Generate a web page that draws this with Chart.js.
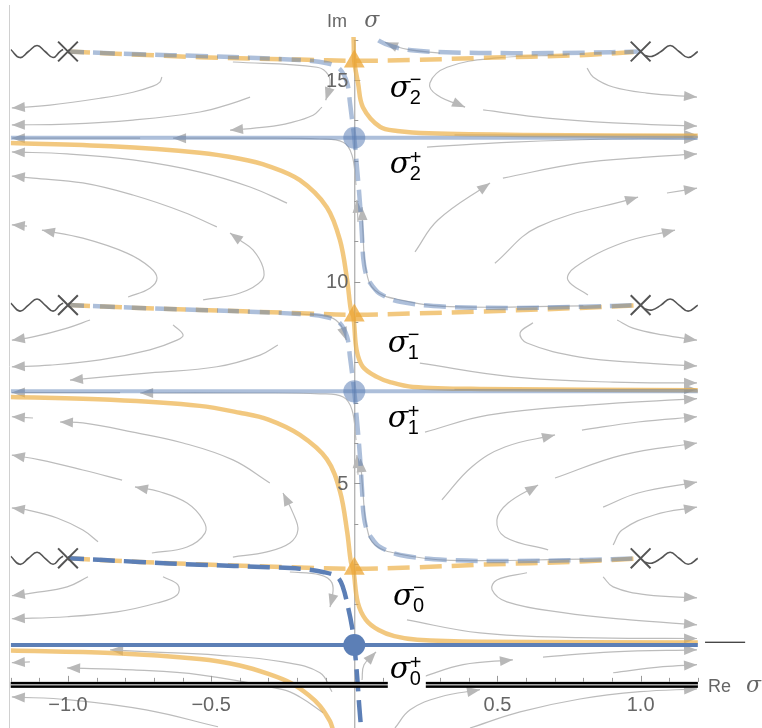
<!DOCTYPE html>
<html>
<head>
<meta charset="utf-8">
<script src="https://cdn.jsdelivr.net/npm/chart.js@4.4.1/dist/chart.umd.min.js"></script>
<style>
  html, body { margin: 0; padding: 0; background: #fff; }
  canvas { display: block; }
</style>
</head>
<body>
<canvas id="flowChart" width="762" height="728"></canvas>
<script>
// fixed points and branch points
const sigmaPlusY = [0.99, 7.28, 13.57];
const sigmaMinusY = [2.88, 9.16, 15.46];
const branchX = [-1.0, 1.0];
const branchY = [3.14, 9.42, 15.71];
const xRange = [-1.2, 1.2];
const yRange = [-1.07, 16.07];

const xTicks = [-1.0, -0.5, 0.5, 1.0];
const xTickLabels = ['\u22121.0', '\u22120.5', '0.5', '1.0'];
const yTicks = [5, 10, 15];
const yTickLabels = ['5', '10', '15'];

// sigma labels
const labelSub = ['0', '0', '1', '1', '2', '2'];
const labelSup = ['+', '\u2212', '+', '\u2212', '+', '\u2212'];
const labelX = [0.124, 0.135, 0.117, 0.117, 0.124, 0.124];
const labelY = [0.17, 1.98, 6.40, 8.26, 12.70, 14.58];

// wiggly branch cuts (offsets from the branch point)
const waveLeftDx = [-0.2, -0.168, -0.138, -0.108, -0.080, -0.052, -0.028, -0.017];
const waveLeftDy = [0.05, -0.15, 0, 0.15, 0, -0.15, 0, 0.05];
const waveRightDx = [0.015, 0.04, 0.071, 0.103, 0.134, 0.166, 0.2];
const waveRightDy = [-0.1, -0.12, 0, 0.15, 0, -0.15, 0];

// solid orange curves
const orangeA = [[-1.2,0.85],[-0.85,0.79],[-0.54,0.64],[-0.40,0.48],[-0.30,0.27],[-0.22,0.04],[-0.16,-0.25],[-0.12,-0.52],[-0.085,-0.9],[-0.075,-1.1]];
const orangeB = [[-1.2,7.14],[-0.85,7.07],[-0.54,6.92],[-0.40,6.75],[-0.30,6.58],[-0.19,6.2],[-0.096,5.6],[-0.05,4.8],[-0.025,3.8],[-0.012,3.05],[-0.003,2.84],[0.012,2.05],[0.04,1.62],[0.085,1.36],[0.14,1.21],[0.22,1.12],[0.44,1.07],[1.2,1.05]];
const orangeC = [[-1.2,13.44],[-0.85,13.36],[-0.54,13.2],[-0.40,13.05],[-0.30,12.87],[-0.19,12.52],[-0.096,11.85],[-0.05,11.03],[-0.025,10.04],[-0.012,9.3],[-0.003,9.12],[0.008,8.31],[0.03,7.89],[0.079,7.64],[0.125,7.51],[0.205,7.39],[0.44,7.34],[1.2,7.31]];
const orangeD = [[-0.004,16.4],[-0.002,15.9],[0.0,15.46],[0.013,14.93],[0.03,14.33],[0.09,13.84],[0.15,13.74],[0.26,13.68],[0.6,13.64],[1.2,13.62]];

// dashed orange curves
const orangeDash0 = [[-1,3.14],[-0.75,3.05],[-0.54,2.99],[-0.19,2.91],[0,2.88],[0.2,2.91],[0.44,2.98],[0.79,3.06],[1,3.14]];
const orangeDash1 = [[-1,9.42],[-0.75,9.35],[-0.54,9.30],[-0.19,9.22],[0,9.18],[0.2,9.21],[0.44,9.26],[0.79,9.35],[1,9.42]];
const orangeDash2 = [[-1,15.71],[-0.75,15.63],[-0.54,15.57],[-0.19,15.51],[0,15.48],[0.2,15.5],[0.44,15.55],[0.79,15.62],[1,15.71]];

// dashed blue curves
const blueDash0 = [[-1,3.14],[-0.75,3.05],[-0.54,2.98],[-0.30,2.92],[-0.19,2.88],[-0.11,2.80],[-0.06,2.68],[-0.04,2.43],[-0.022,1.93],[-0.008,1.44],[0,0.99],[0.01,0.2],[0.017,-0.5],[0.024,-1.1]];
const blueDash1 = [[-1,9.42],[-0.75,9.35],[-0.54,9.30],[-0.19,9.20],[-0.095,9.12],[-0.05,8.97],[-0.025,8.63],[-0.015,8.13],[-0.008,7.74],[0,7.28],[0.01,6.5],[0.02,5.65],[0.027,4.84],[0.032,4.26],[0.044,3.84],[0.065,3.6],[0.09,3.42],[0.16,3.22],[0.32,3.10],[0.55,3.07],[0.8,3.10],[1,3.14]];
const blueDash2 = [[-1,15.71],[-0.75,15.64],[-0.54,15.6],[-0.19,15.5],[-0.095,15.42],[-0.05,15.27],[-0.025,14.93],[-0.015,14.43],[-0.008,14.03],[0,13.57],[0.01,12.78],[0.02,11.93],[0.027,11.12],[0.032,10.54],[0.044,10.12],[0.065,9.88],[0.09,9.70],[0.16,9.50],[0.32,9.38],[0.55,9.35],[0.8,9.38],[1,9.42]];
const blueDash3 = [[1,15.71],[0.8,15.68],[0.55,15.67],[0.32,15.69],[0.2,15.74],[0.135,15.83],[0.09,15.96],[0.06,16.15],[0.045,16.45]];

// stream lines, last point is the arrow tip
const streamsLeft = [
  [[-0.672,15.08],[-0.679,14.95],[-0.703,14.85],[-0.773,14.70],[-0.888,14.55],[-1.063,14.38],[-1.196,14.31]],
  [[-0.364,14.58],[-0.424,14.43],[-0.539,14.21],[-0.773,14.01],[-1.003,13.91],[-1.196,13.89]],
  [[-0.424,15.45],[-0.130,15.32],[-0.090,15.12],[-0.086,14.8],[-0.100,14.5]],
  [[-0.113,14.33],[-0.144,14.13],[-0.225,13.94],[-0.305,13.84],[-0.434,13.76]],
  [[0.013,11.48],[0.009,12.03]],
  [[0.006,12.40],[-0.008,13.14],[-0.039,13.46],[-0.120,13.54],[-0.364,13.56],[-0.633,13.56]],
  [[-0.748,13.56],[-1.196,13.56]],
  [[-0.235,11.95],[-0.364,12.35],[-0.539,12.72],[-0.773,13.02],[-1.003,13.17],[-1.196,13.22]],
  [[-0.480,11.36],[-0.598,11.73],[-0.773,12.15],[-0.948,12.45],[-1.122,12.57],[-1.196,12.62]],
  [[-1.143,11.38],[-1.196,11.41]],
  [[-0.790,9.62],[-0.714,9.84],[-0.689,10.09],[-0.714,10.36],[-0.794,10.71],[-0.948,11.08],[-1.091,11.28]],
  [[-0.528,9.55],[-0.399,9.72],[-0.322,10.04],[-0.319,10.36],[-0.354,10.79],[-0.399,11.03],[-0.434,11.21]],
  [[-0.923,9.05],[-1.003,8.85],[-1.122,8.63],[-1.196,8.55]],
  [[-0.633,8.93],[-0.598,8.68],[-0.619,8.55],[-0.714,8.31],[-0.888,8.06],[-1.063,7.93],[-1.196,7.89]],
  [[-0.267,8.43],[-0.329,8.18],[-0.480,7.89],[-0.714,7.74],[-0.993,7.56]],
  [[-0.190,9.20],[-0.085,9.12],[-0.045,8.9],[-0.028,8.55]],
  [[0.013,5.21],[0.009,5.70]],
  [[0.006,6.07],[-0.008,6.82],[-0.039,7.14],[-0.120,7.22],[-0.364,7.24],[-0.748,7.24]],
  [[-0.818,7.25],[-1.196,7.25]],
  [[-1.122,6.62],[-1.196,6.65]],
  [[-0.295,5.01],[-0.424,5.58],[-0.598,6.00],[-0.773,6.27],[-0.948,6.50],[-1.028,6.52]],
  [[-0.811,5.08],[-0.948,5.33],[-1.098,5.58],[-1.196,5.70]],
  [[-0.707,3.27],[-0.584,3.42],[-0.521,3.77],[-0.528,4.09],[-0.584,4.51],[-0.679,4.79],[-0.766,4.91]],
  [[-0.895,3.55],[-0.948,3.84],[-1.038,4.14],[-1.143,4.34],[-1.196,4.39]],
  [[-0.424,3.17],[-0.305,3.30],[-0.225,3.52],[-0.197,3.84],[-0.214,4.26],[-0.249,4.76]],
  [[-0.930,2.68],[-1.003,2.43],[-1.122,2.28],[-1.196,2.21]],
  [[-0.668,2.68],[-0.616,2.48],[-0.619,2.23],[-0.689,2.03],[-0.829,1.81],[-1.003,1.69],[-1.196,1.64]],
  [[-0.225,2.80],[-0.120,2.73],[-0.078,2.53],[-0.078,2.11],[-0.085,1.93]],
  [[-0.078,-0.17],[-0.120,0.30],[-0.249,0.57],[-0.480,0.74],[-0.714,0.82],[-0.853,0.87]],
  [[-0.109,-0.69],[-0.190,-0.30],[-0.249,-0.12],[-0.539,0.25],[-0.773,0.37],[-1.003,0.42]],
  [[-1.133,0.57],[-1.196,0.55]],
  [[-0.476,-1.04],[-0.727,-0.62],[-0.993,-0.37],[-1.196,-0.30]]
];

const streamsRight = [
  [[0.813,15.30],[0.834,15.08],[0.904,14.83],[1.022,14.68],[1.197,14.58]],
  [[0.743,15.62],[0.498,15.55],[0.324,15.32],[0.264,14.93],[0.289,14.63],[0.387,14.33]],
  [[0.450,14.26],[0.673,14.06],[0.904,13.94],[1.197,13.86]],
  [[0.35,13.64],[1.197,13.64]],
  [[0.254,13.34],[0.554,13.46],[0.904,13.54],[1.197,13.54]],
  [[0.519,12.57],[0.788,12.94],[1.022,13.09],[1.197,13.17]],
  [[0.212,10.74],[0.292,11.53],[0.474,12.45]],
  [[0.491,10.46],[0.642,11.36],[0.991,12.10]],
  [[1.092,12.20],[1.197,12.32]],
  [[0.816,9.67],[0.746,10.04],[0.771,10.36],[0.935,10.96],[1.120,11.28]],
  [[0.80,9.40],[0.334,9.38],[0.160,9.55],[0.072,9.79],[0.041,10.29],[0.030,11.28],[0.027,11.85]],
  [[0.299,15.67],[0.195,15.75],[0.142,15.84],[0.107,15.94]],
  [[0.918,9.05],[0.973,8.85],[1.078,8.68],[1.197,8.55]],
  [[0.624,8.98],[0.579,8.73],[0.603,8.48],[0.788,8.13],[1.022,7.98],[1.197,7.91]],
  [[0.229,7.98],[0.554,7.64],[0.904,7.51],[1.197,7.49]],
  [[0.35,7.33],[1.197,7.33]],
  [[0.247,6.27],[0.467,6.69],[0.816,6.94],[1.197,7.10]],
  [[0.795,6.32],[0.991,6.52],[1.197,6.65]],
  [[0.306,4.59],[0.411,5.41],[0.526,5.90],[0.701,6.20]],
  [[0.701,5.13],[0.935,5.70],[1.197,6.00]],
  [[0.677,3.35],[0.526,3.67],[0.498,4.09],[0.537,4.51],[0.642,4.96]],
  [[0.869,4.41],[0.991,4.76],[1.197,5.03]],
  [[0.904,3.47],[0.935,3.84],[1.050,4.22],[1.197,4.41]],
  [[0.80,3.12],[0.334,3.09],[0.160,3.24],[0.072,3.47],[0.044,3.9],[0.030,4.8],[0.022,5.6]],
  [[0.869,2.68],[0.904,2.43],[1.022,2.23],[1.197,2.16]],
  [[0.603,2.78],[0.498,2.60],[0.481,2.36],[0.533,2.06],[0.729,1.79],[0.963,1.61],[1.197,1.49]],
  [[0.184,1.61],[0.439,1.29],[0.788,1.17],[1.197,1.15]],
  [[0.659,0.69],[0.904,0.82],[1.197,0.87]],
  [[0.240,0.20],[0.380,0.50],[0.554,0.62]],
  [[0.904,0.30],[1.078,0.45],[1.197,0.50]],
  [[0.404,-1.07],[0.579,-0.67],[0.788,-0.35],[0.998,-0.17],[1.197,-0.10]],
  [[0.142,-1.07],[0.195,-0.62],[0.299,-0.30],[0.439,-0.12]],
  [[0.027,0.12],[0.034,0.50],[0.076,0.82]]
];

const ORANGE = 'rgba(236,174,66,0.68)';
const BLUE = 'rgb(92,127,182)';
const BLUE_LIGHT = 'rgba(92,127,182,0.5)';
const GRAY = '#bcbcbc';

const pts = arr => arr.map(([x, y]) => ({ x, y }));
const datasets = [];
function addLine(data, style, order) {
  datasets.push(Object.assign({ data: pts(data), showLine: true, pointRadius: 0, fill: false, tension: 0.35, order }, style));
}

streamsLeft.concat(streamsRight).forEach(s => addLine(s, { borderColor: GRAY, borderWidth: 1.2, arrow: true, tension: 0.4 }, 6));

[orangeA, orangeB, orangeC, orangeD].forEach(c => addLine(c, { borderColor: ORANGE, borderWidth: 4.5 }, 5));
[orangeDash0, orangeDash1, orangeDash2].forEach(c => addLine(c, { borderColor: ORANGE, borderWidth: 4.5, borderDash: [22, 10] }, 4));

addLine(blueDash0, { borderColor: BLUE, borderWidth: 4.5, borderDash: [22, 9], borderDashOffset: 6 }, 3);
[blueDash1, blueDash2, blueDash3].forEach(c => addLine(c, { borderColor: BLUE_LIGHT, borderWidth: 4.5, borderDash: [22, 9], borderDashOffset: 6 }, 3));

sigmaPlusY.forEach((v, i) => addLine([[xRange[0], v], [xRange[1], v]], { borderColor: i === 0 ? BLUE : BLUE_LIGHT, borderWidth: 4, tension: 0 }, 2));

// branch cuts
branchY.forEach(yb => {
  addLine(waveLeftDx.map((d, k) => [branchX[0] + d, yb + waveLeftDy[k]]), { borderColor: '#555', borderWidth: 1.6, tension: 0.45 }, 1);
  addLine(waveRightDx.map((d, k) => [branchX[1] + d, yb + waveRightDy[k]]), { borderColor: '#555', borderWidth: 1.6, tension: 0.45 }, 1);
});
const crossPts = [];
branchY.forEach(yb => branchX.forEach(xb => crossPts.push([xb, yb])));
datasets.push({ data: pts(crossPts), showLine: false, pointStyle: 'crossRot', pointRadius: 14, pointBorderColor: '#555', pointBorderWidth: 2, pointBackgroundColor: 'rgba(0,0,0,0)', order: 1 });

datasets.push({ data: pts(sigmaMinusY.map(v => [0, v])), showLine: false, pointStyle: 'triangle', pointRadius: 12, pointBackgroundColor: 'rgba(236,166,52,0.75)', pointBorderWidth: 0, order: 0 });
sigmaPlusY.forEach((v, i) => datasets.push({ data: pts([[0, v]]), showLine: false, pointStyle: 'circle', pointRadius: 11, pointBackgroundColor: i === 0 ? BLUE : 'rgba(92,127,182,0.55)', pointBorderWidth: 0, order: 0 }));

const arrowPlugin = {
  id: 'arrows',
  afterDatasetDraw(chart, args) {
    const ds = chart.data.datasets[args.index];
    if (!ds.arrow) return;
    const p = args.meta.data;
    const tip = p[p.length - 1], prev = p[p.length - 2];
    let bx = tip.cp1x, by = tip.cp1y;
    if (bx === undefined || Math.hypot(tip.x - bx, tip.y - by) < 1) { bx = prev.x; by = prev.y; }
    const a = Math.atan2(tip.y - by, tip.x - bx);
    const ctx = chart.ctx;
    ctx.save();
    ctx.translate(tip.x, tip.y);
    ctx.rotate(a);
    ctx.fillStyle = '#b8b8b8';
    ctx.beginPath();
    ctx.moveTo(0, 0);
    ctx.lineTo(-13, -5);
    ctx.lineTo(-13, 5);
    ctx.closePath();
    ctx.fill();
    ctx.restore();
  }
};

const axesPlugin = {
  id: 'axes',
  beforeDatasetsDraw(chart) {
    const { ctx, scales: { x, y } } = chart;
    const x0 = x.getPixelForValue(0);
    ctx.save();
    // left frame edge
    ctx.strokeStyle = '#d0d0d0';
    ctx.lineWidth = 1;
    ctx.beginPath();
    ctx.moveTo(9.5, 5);
    ctx.lineTo(9.5, chart.height);
    ctx.stroke();
    // vertical axis
    ctx.strokeStyle = '#999';
    ctx.beginPath();
    ctx.moveTo(x0 + 0.5, y.getPixelForValue(16));
    ctx.lineTo(x0 + 0.5, chart.height);
    for (let v = 1; v <= 16; v++) {
      const py = Math.round(y.getPixelForValue(v)) + 0.5;
      ctx.moveTo(x0, py);
      ctx.lineTo(x0 + (v % 5 === 0 ? 6 : 4), py);
    }
    ctx.stroke();
    ctx.restore();
  },
  afterDatasetsDraw(chart) {
    const { ctx, scales: { x, y } } = chart;
    const x0 = x.getPixelForValue(0);
    const y0 = y.getPixelForValue(0);
    ctx.save();
    // horizontal axis: heavy double line
    ctx.fillStyle = '#000';
    ctx.fillRect(x.left, y0 - 3, x.right - x.left, 6);
    ctx.fillStyle = '#fff';
    ctx.fillRect(x.left, y0 - 0.5, x.right - x.left, 1);
    ctx.strokeStyle = '#999';
    ctx.lineWidth = 1;
    ctx.beginPath();
    for (let k = -12; k <= 12; k++) {
      if (k === 0) continue;
      const px = Math.round(x.getPixelForValue(k / 10)) + 0.5;
      ctx.moveTo(px, y0 - 3);
      ctx.lineTo(px, y0 - 3 - (k % 5 === 0 ? 6 : 4));
    }
    ctx.stroke();
    // tick labels
    ctx.fillStyle = '#666';
    ctx.font = '20px "Liberation Sans", Arial, sans-serif';
    ctx.textAlign = 'center';
    ctx.textBaseline = 'alphabetic';
    xTicks.forEach((v, i) => ctx.fillText(xTickLabels[i], x.getPixelForValue(v), y0 + 26));
    ctx.textAlign = 'right';
    ctx.textBaseline = 'middle';
    yTicks.forEach((v, i) => ctx.fillText(yTickLabels[i], x0 - 6, y.getPixelForValue(v) + 1));
    // axis names
    ctx.textAlign = 'left';
    ctx.textBaseline = 'alphabetic';
    ctx.font = '18px "Liberation Sans", Arial, sans-serif';
    ctx.fillText('Im', x.getPixelForValue(-0.095), y.getPixelForValue(16.32));
    ctx.fillText('Re', x.getPixelForValue(1.235), y.getPixelForValue(-0.17));
    ctx.font = 'italic 22px "DejaVu Serif", serif';
    ctx.fillText('\u03c3', x.getPixelForValue(0.035), y.getPixelForValue(16.32));
    ctx.fillText('\u03c3', x.getPixelForValue(1.368), y.getPixelForValue(-0.17));
    // small mark on the right
    ctx.strokeStyle = '#000';
    ctx.beginPath();
    ctx.moveTo(x.getPixelForValue(1.225), y.getPixelForValue(1.07) + 0.5);
    ctx.lineTo(x.getPixelForValue(1.365), y.getPixelForValue(1.07) + 0.5);
    ctx.stroke();
    // sigma labels
    labelSub.forEach((sub, i) => {
      const px = x.getPixelForValue(labelX[i]);
      const py = y.getPixelForValue(labelY[i]);
      if (i === 0) {
        ctx.fillStyle = '#fff';
        ctx.fillRect(px - 2, py - 20, 38, 31);
      }
      ctx.fillStyle = '#000';
      ctx.font = 'italic 30px "DejaVu Serif", serif';
      ctx.fillText('\u03c3', px, py);
      ctx.font = '20px "Liberation Sans", Arial, sans-serif';
      ctx.fillText(sub, px + 20, py + 7);
      ctx.fillText(labelSup[i], px + 20, py - (labelSup[i] === '+' ? 9 : 11));
    });
    ctx.restore();
  }
};

new Chart(document.getElementById('flowChart'), {
  type: 'scatter',
  data: { datasets },
  options: {
    responsive: false,
    animation: false,
    layout: { autoPadding: false, padding: { left: 10.7, right: 64.1, top: 37, bottom: 0 } },
    scales: {
      x: { type: 'linear', display: false, min: xRange[0], max: xRange[1] },
      y: { type: 'linear', display: false, min: yRange[0], max: yRange[1] }
    },
    plugins: { legend: { display: false }, tooltip: { enabled: false } },
    elements: { line: { borderCapStyle: 'butt' } }
  },
  plugins: [axesPlugin, arrowPlugin]
});
</script>
</body>
</html>
